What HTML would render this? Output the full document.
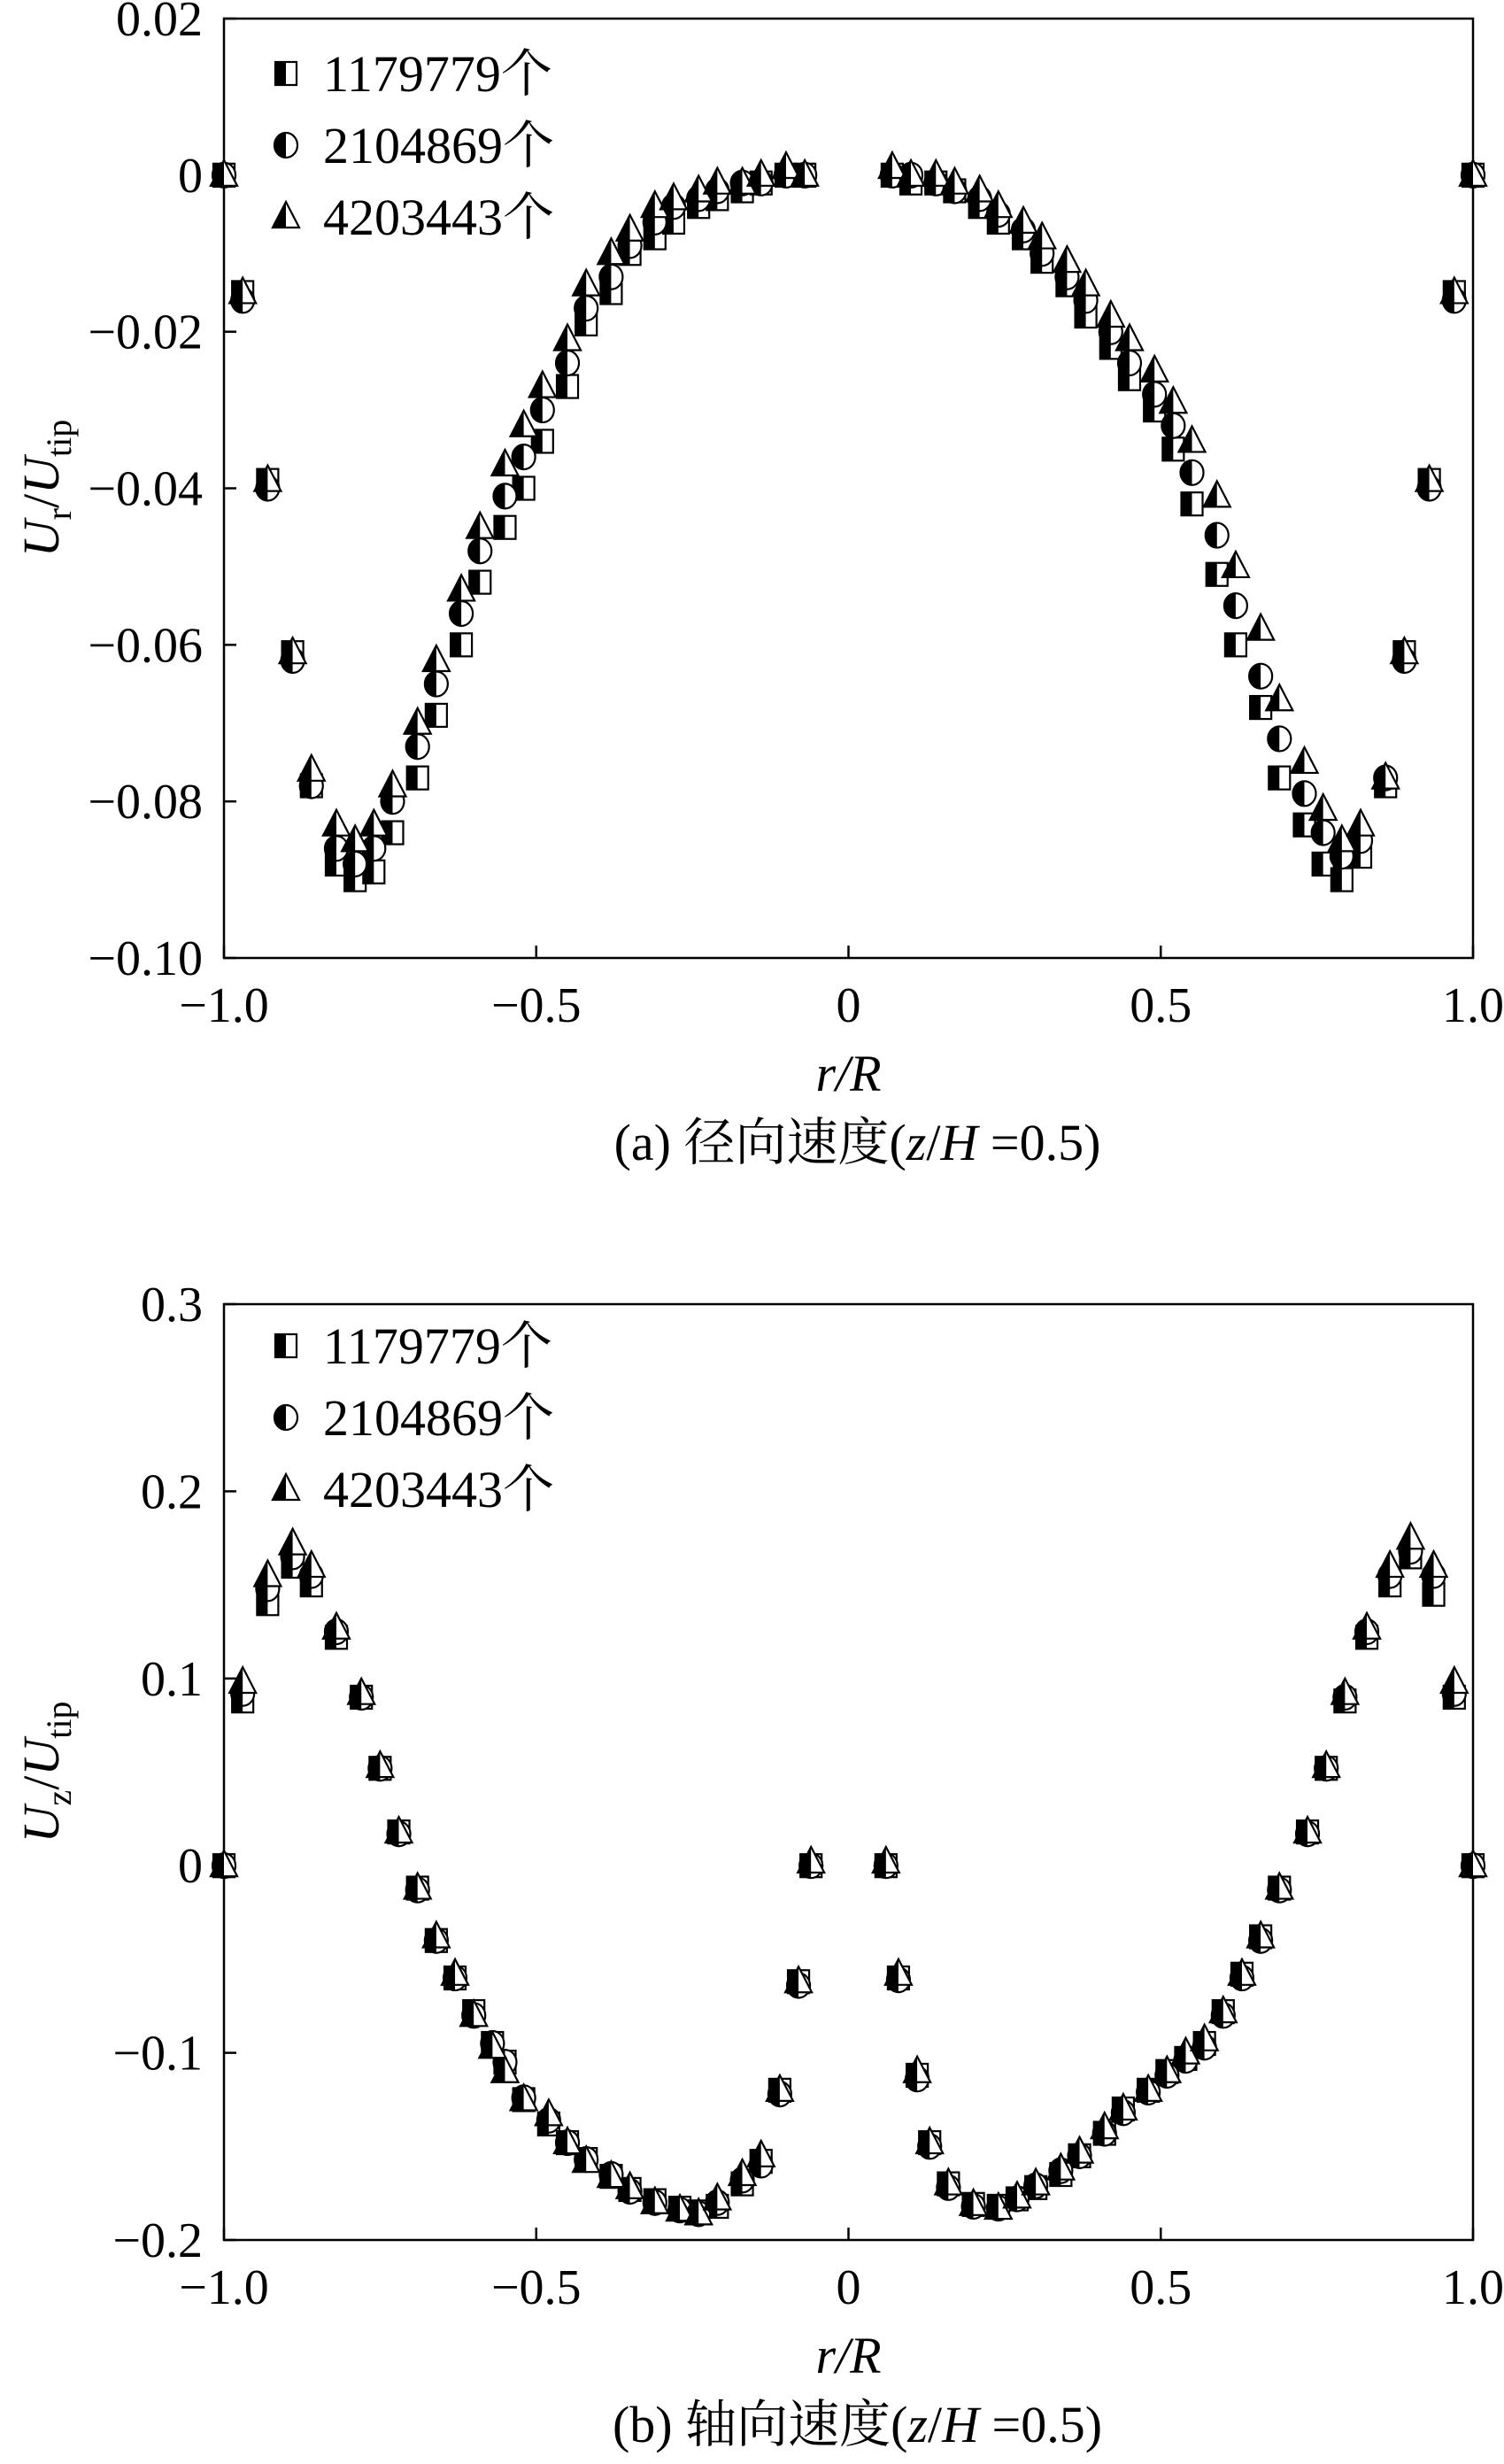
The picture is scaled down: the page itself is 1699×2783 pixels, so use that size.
<!DOCTYPE html>
<html><head><meta charset="utf-8">
<style>
html,body{margin:0;padding:0;background:#fff;}
svg{display:block;}
text{font-family:"Liberation Serif","Noto Serif CJK SC",serif;fill:#000;}
</style></head>
<body>
<svg id="fig" width="1699" height="2783" viewBox="0 0 1699 2783" xmlns="http://www.w3.org/2000/svg">
</svg>
<script>
// ---- Chart (a) radial velocity ----
const rA = [-1.0,-0.97,-0.93,-0.89,-0.86,-0.82,-0.79,-0.76,-0.73,-0.69,-0.66,-0.62,-0.59,-0.55,-0.52,-0.49,-0.45,-0.42,-0.38,-0.35,-0.31,-0.28,-0.24,-0.21,-0.17,-0.14,-0.10,-0.07,
 0.07,0.10,0.14,0.17,0.21,0.24,0.28,0.31,0.35,0.38,0.42,0.45,0.49,0.52,0.55,0.59,0.62,0.66,0.69,0.73,0.76,0.79,0.82,0.86,0.89,0.93,0.97,1.0];
const a1179779 = [0,-0.015,-0.039,-0.061,-0.078,-0.088,-0.090,-0.089,-0.084,-0.077,-0.069,-0.060,-0.052,-0.045,-0.040,-0.034,-0.027,-0.019,-0.015,-0.010,-0.008,-0.006,-0.004,-0.003,-0.002,-0.001,0.000,0.000,
 0.000,-0.001,-0.001,-0.002,-0.004,-0.006,-0.008,-0.011,-0.014,-0.018,-0.022,-0.026,-0.030,-0.035,-0.042,-0.051,-0.060,-0.068,-0.077,-0.083,-0.088,-0.090,-0.087,-0.078,-0.061,-0.039,-0.015,0.000];
const a2104869 = [0,-0.016,-0.040,-0.062,-0.078,-0.086,-0.088,-0.086,-0.080,-0.073,-0.065,-0.056,-0.048,-0.041,-0.036,-0.030,-0.024,-0.017,-0.013,-0.009,-0.006,-0.004,-0.003,-0.002,-0.001,-0.001,0.000,0.000,
 0.000,0.000,-0.001,-0.002,-0.003,-0.005,-0.007,-0.010,-0.013,-0.016,-0.020,-0.024,-0.028,-0.032,-0.038,-0.046,-0.055,-0.064,-0.072,-0.079,-0.084,-0.087,-0.085,-0.077,-0.062,-0.040,-0.016,0.000];
const a4203443 = [0,-0.015,-0.039,-0.061,-0.076,-0.083,-0.085,-0.083,-0.078,-0.070,-0.062,-0.053,-0.045,-0.037,-0.032,-0.027,-0.021,-0.014,-0.010,-0.007,-0.004,-0.003,-0.002,-0.001,-0.001,0.000,0.001,0.000,
 0.001,0.000,0.000,-0.001,-0.002,-0.004,-0.006,-0.008,-0.011,-0.014,-0.018,-0.021,-0.025,-0.029,-0.034,-0.041,-0.050,-0.058,-0.067,-0.075,-0.081,-0.085,-0.083,-0.077,-0.061,-0.039,-0.015,0.000];
const yTicksA = [0.02,0,-0.02,-0.04,-0.06,-0.08,-0.10];
const yLabelsA = ["0.02","0","\u22120.02","\u22120.04","\u22120.06","\u22120.08","\u22120.10"];

// ---- Chart (b) axial velocity ----
const rB = [-1.0,-0.97,-0.93,-0.89,-0.86,-0.82,-0.78,-0.75,-0.72,-0.69,-0.66,-0.63,-0.60,-0.57,-0.55,-0.52,-0.48,-0.45,-0.42,-0.38,-0.35,-0.31,-0.27,-0.24,-0.21,-0.17,-0.14,-0.11,-0.08,-0.06,
 0.06,0.08,0.11,0.13,0.16,0.20,0.24,0.27,0.30,0.34,0.37,0.41,0.44,0.48,0.51,0.54,0.57,0.60,0.63,0.66,0.69,0.735,0.765,0.795,0.83,0.867,0.90,0.937,0.97,1.0];
const b1179779 = [0,0.088,0.140,0.160,0.150,0.122,0.090,0.052,0.018,-0.012,-0.040,-0.060,-0.078,-0.095,-0.105,-0.125,-0.138,-0.148,-0.157,-0.166,-0.173,-0.179,-0.183,-0.185,-0.182,-0.170,-0.158,-0.120,-0.062,0.000,
 0.000,-0.060,-0.112,-0.148,-0.170,-0.181,-0.182,-0.178,-0.172,-0.165,-0.155,-0.143,-0.130,-0.120,-0.110,-0.103,-0.095,-0.078,-0.058,-0.038,-0.012,0.018,0.052,0.088,0.122,0.150,0.165,0.145,0.090,0.000];
const b2104869 = [0,0.092,0.148,0.165,0.155,0.125,0.090,0.052,0.017,-0.013,-0.040,-0.060,-0.080,-0.095,-0.105,-0.124,-0.136,-0.148,-0.157,-0.165,-0.174,-0.180,-0.184,-0.186,-0.180,-0.168,-0.160,-0.122,-0.064,0.000,
 0.000,-0.061,-0.114,-0.150,-0.172,-0.182,-0.183,-0.178,-0.171,-0.163,-0.155,-0.143,-0.132,-0.121,-0.112,-0.104,-0.097,-0.080,-0.060,-0.040,-0.013,0.017,0.052,0.090,0.125,0.155,0.168,0.155,0.092,0.000];
const b4203443 = [0,0.098,0.155,0.172,0.160,0.127,0.092,0.053,0.018,-0.012,-0.038,-0.058,-0.080,-0.097,-0.110,-0.125,-0.133,-0.148,-0.158,-0.166,-0.172,-0.180,-0.184,-0.186,-0.178,-0.165,-0.155,-0.120,-0.062,0.002,
 0.002,-0.058,-0.110,-0.148,-0.170,-0.181,-0.183,-0.177,-0.170,-0.162,-0.153,-0.140,-0.130,-0.120,-0.110,-0.100,-0.093,-0.078,-0.058,-0.038,-0.012,0.018,0.053,0.092,0.127,0.160,0.175,0.160,0.098,0.000];
const yTicksB = [0.3,0.2,0.1,0,-0.1,-0.2];
const yLabelsB = ["0.3","0.2","0.1","0","\u22120.1","\u22120.2"];

const xTicks = [-1.0,-0.5,0,0.5,1.0];
const xLabels = ["\u22121.0","\u22120.5","0","0.5","1.0"];
const seriesNames = ["1179779\u4e2a","2104869\u4e2a","4203443\u4e2a"];

const NS = "http://www.w3.org/2000/svg";
const svg = document.getElementById('fig');
function mk(tag, attrs, parent){
  const e = document.createElementNS(NS, tag);
  for (const k in attrs) e.setAttribute(k, attrs[k]);
  (parent||svg).appendChild(e);
  return e;
}

function marker(kind, cx, cy, parent){
  const g = mk('g', {transform:`translate(${cx},${cy})`}, parent);
  if (kind === 0){
    mk('rect',{x:-12,y:-13,width:24,height:26,fill:'#fff',stroke:'#000','stroke-width':2.2},g);
    mk('rect',{x:-12,y:-13,width:12,height:26,fill:'#000'},g);
  } else if (kind === 1){
    mk('ellipse',{cx:0,cy:0,rx:13,ry:14,fill:'#fff',stroke:'#000','stroke-width':2.2},g);
    mk('path',{d:'M0,-14 A13,14 0 0,0 0,14 Z',fill:'#000'},g);
  } else {
    mk('path',{d:'M0,-17 L15,12 L-15,12 Z',fill:'#fff',stroke:'#000','stroke-width':2.2},g);
    mk('path',{d:'M0,-17 L0,12 L-15,12 Z',fill:'#000'},g);
  }
  return g;
}

function chart(cfg){
  const {L,R,T,B,ymin,ymax,yTicks,yLabels,series,rs,name,caption,ySub,legY} = cfg;
  const g = mk('g',{});
  
  
  const xs = v => L + (v + 1) / 2 * (R - L);
  const ys = v => B - (v - ymin) / (ymax - ymin) * (B - T);
  const box = mk('rect',{x:L,y:T,width:R-L,height:B-T,fill:'none',stroke:'#000','stroke-width':2.5},g);
  
  
  xTicks.forEach((t,i)=>{
    const x = xs(t);
    mk('line',{x1:x,y1:B,x2:x,y2:B-14,stroke:'#000','stroke-width':2.5},g);
    const tx = mk('text',{x:x,y:B+72,'font-size':56,'text-anchor':'middle'},g);
    tx.textContent = xLabels[i];
    
    
  });
  yTicks.forEach((t,i)=>{
    const y = ys(t);
    mk('line',{x1:L,y1:y,x2:L+14,y2:y,stroke:'#000','stroke-width':2.5},g);
    const tx = mk('text',{x:L-24,y:y+19,'font-size':56,'text-anchor':'end'},g);
    tx.textContent = yLabels[i];
    
    
  });
  series.forEach((vals,k)=>{
    const sg = mk('g',{},g);
    
    
    vals.forEach((v,i)=>{
      const m = marker(k, xs(rs[i]), ys(v), sg);
      
      
    });
  });
  const lg = mk('g',{},g);
  
  
  seriesNames.forEach((s,k)=>{
    const y = legY + k*81;
    marker(k, L+70, y, lg);
    const tx = mk('text',{x:L+112,y:y+20,'font-size':58},lg);
    tx.textContent = s;
    
    
  });
  const xt = mk('text',{x:(L+R)/2,y:B+150,'font-size':58,'text-anchor':'middle','font-style':'italic'},g);
  xt.textContent = 'r/R';
  
  
  const yt = mk('text',{x:0,y:0,'font-size':58,'text-anchor':'middle',transform:`translate(66,${(T+B)/2}) rotate(-90)`},g);
  yt.innerHTML = `<tspan font-style="italic">U</tspan><tspan font-size="40" dy="14">${ySub}</tspan><tspan dy="-14">/</tspan><tspan font-style="italic">U</tspan><tspan font-size="40" dy="14">tip</tspan>`;
  
  
  const cp = mk('text',{x:(L+R)/2 + 10,y:B+228,'font-size':58,'text-anchor':'middle'},g);
  cp.innerHTML = caption;
  
  
}

chart({L:253,R:1664,T:21,B:1082,ymin:-0.10,ymax:0.02,yTicks:yTicksA,yLabels:yLabelsA,
  series:[a1179779,a2104869,a4203443],rs:rA,name:'radial-velocity-chart',ySub:'r',legY:83,
  caption:'(a) \u5f84\u5411\u901f\u5ea6(<tspan font-style="italic">z</tspan>/<tspan font-style="italic">H</tspan> =0.5)'});
chart({L:253,R:1664,T:1473,B:2530,ymin:-0.2,ymax:0.3,yTicks:yTicksB,yLabels:yLabelsB,
  series:[b1179779,b2104869,b4203443],rs:rB,name:'axial-velocity-chart',ySub:'z',legY:1520,
  caption:'(b) \u8f74\u5411\u901f\u5ea6(<tspan font-style="italic">z</tspan>/<tspan font-style="italic">H</tspan> =0.5)'});
</script>
</body></html>
